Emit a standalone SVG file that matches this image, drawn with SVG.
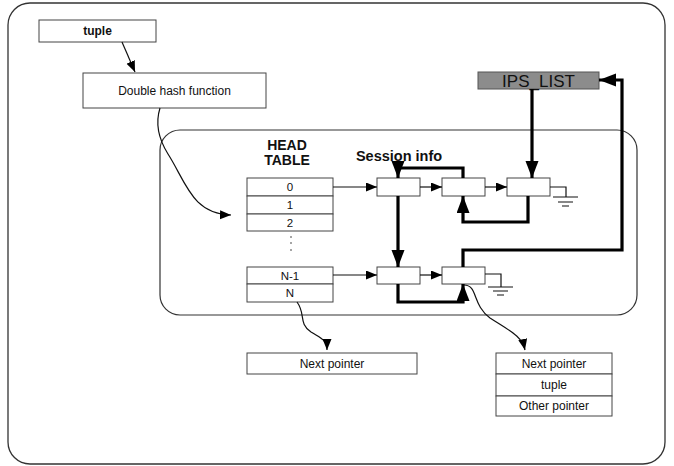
<svg xmlns="http://www.w3.org/2000/svg" width="674" height="466" viewBox="0 0 674 466">
<style>
.box{fill:#fff;stroke:#444;stroke-width:1}
.t{font-family:"Liberation Sans",Arial,sans-serif;font-size:12px;fill:#111;text-anchor:middle}
.b{font-weight:bold}
.thin{fill:none;stroke:#111;stroke-width:1.2}
.thick{fill:none;stroke:#000;stroke-width:3.2}
.g{fill:none;stroke:#111;stroke-width:1.2}
</style>
<defs>
<marker id="sa" markerUnits="userSpaceOnUse" markerWidth="12" markerHeight="10" refX="11" refY="4.5" orient="auto"><path d="M0,0 L11,4.5 L0,9 Z" fill="#000"/></marker>
<marker id="ba" markerUnits="userSpaceOnUse" markerWidth="18" markerHeight="14" refX="17" refY="6.5" orient="auto"><path d="M0,0 L17,6.5 L0,13 Z" fill="#000"/></marker>
</defs>
<rect x="8" y="3" width="657" height="461" rx="22" fill="#fff" stroke="#333" stroke-width="1.3"/>
<rect x="160" y="130" width="477" height="185" rx="20" fill="none" stroke="#333" stroke-width="1.2"/>

<g id="tuple"><rect class="box" x="39" y="20" width="117" height="22"/><text class="t b" x="97.5" y="35">tuple</text></g>
<g id="hash"><rect class="box" x="83" y="73" width="183" height="35"/><text class="t" x="174.5" y="95">Double hash function</text></g>
<g id="ips"><rect x="478" y="72" width="121" height="17" fill="#8c8c8c" stroke="#555" stroke-width="1"/><text class="t" x="538.5" y="87" style="font-size:17px">IPS_LIST</text></g>
<g id="headtable">
<text class="t b" x="287" y="150" style="font-size:14px">HEAD</text>
<text class="t b" x="287" y="165" style="font-size:14px">TABLE</text>
<rect class="box" x="247" y="178" width="86" height="18"/><text class="t" x="290" y="191" style="font-size:11.5px">0</text>
<rect class="box" x="247" y="196" width="86" height="18"/><text class="t" x="290" y="209" style="font-size:11.5px">1</text>
<rect class="box" x="247" y="214" width="86" height="17"/><text class="t" x="290" y="227" style="font-size:11.5px">2</text>
<circle cx="291" cy="237" r="0.8" fill="#333"/><circle cx="291" cy="243" r="0.8" fill="#333"/><circle cx="291" cy="250" r="0.8" fill="#333"/>
<rect class="box" x="247" y="267" width="86" height="17"/><text class="t" x="290" y="280" style="font-size:11.5px">N-1</text>
<rect class="box" x="247" y="284" width="86" height="18"/><text class="t" x="290" y="297" style="font-size:11.5px">N</text>
</g>
<text class="t b" x="399" y="161" style="font-size:14.5px">Session info</text>
<g id="s1"><rect class="box" x="377" y="178" width="43" height="18"/></g>
<g id="s2"><rect class="box" x="442" y="178" width="43" height="18"/></g>
<g id="s3"><rect class="box" x="507" y="178" width="43" height="18"/></g>
<g id="s4"><rect class="box" x="377" y="267" width="43" height="17"/></g>
<g id="s5"><rect class="box" x="442" y="267" width="43" height="17"/></g>
<g id="ground1"><path class="g" d="M550,187 H566 V197 M553,197 H578 M558,202 H573 M562,206 H569"/></g>
<g id="ground2"><path class="g" d="M485,274 H501 V287 M488,287 H513 M493,291 H508 M497,295 H504"/></g>
<g id="np1"><rect class="box" x="247" y="353" width="170" height="21"/><text class="t" x="332" y="368">Next pointer</text></g>
<g id="np2">
<rect class="box" x="496" y="353" width="116" height="21"/><text class="t" x="554" y="368">Next pointer</text>
<rect class="box" x="496" y="374" width="116" height="22"/><text class="t" x="554" y="389">tuple</text>
<rect class="box" x="496" y="396" width="116" height="20"/><text class="t" x="554" y="410">Other pointer</text>
</g>

<g id="connectors">
<path class="thin" d="M122,42 L135,72" marker-end="url(#sa)"/>
<path class="thin" d="M160,108 C155,124 158,138 168,154 C186,182 192,214 231,215" marker-end="url(#sa)"/>
<path class="thin" d="M333,187 H377" marker-end="url(#sa)"/>
<path class="thin" d="M420,187 H442" marker-end="url(#sa)"/>
<path class="thin" d="M485,187 H507" marker-end="url(#sa)"/>
<path class="thin" d="M333,275 H377" marker-end="url(#sa)"/>
<path class="thin" d="M420,275 H442" marker-end="url(#sa)"/>
<path class="thin" d="M297,302 C306,314 298,323 311,332 C322,339 327,340 327,350" marker-end="url(#sa)"/>
<path class="thin" d="M464,285 C478,285 472,305 490,318 C510,331 522,336 525,350" marker-end="url(#sa)"/>
<path class="thick" d="M463,178 V168 H398 V178" marker-end="url(#ba)"/>
<path class="thick" d="M532,89 V178" marker-end="url(#ba)"/>
<path class="thick" d="M528,196 V222 H463 V196" marker-end="url(#ba)"/>
<path class="thick" d="M398,196 V267" marker-end="url(#ba)"/>
<path class="thick" d="M398,284 V302 H463 V284" marker-end="url(#ba)"/>
<path class="thick" d="M463,267 V250 H622 V80 H599" marker-end="url(#ba)"/>
</g>
</svg>
